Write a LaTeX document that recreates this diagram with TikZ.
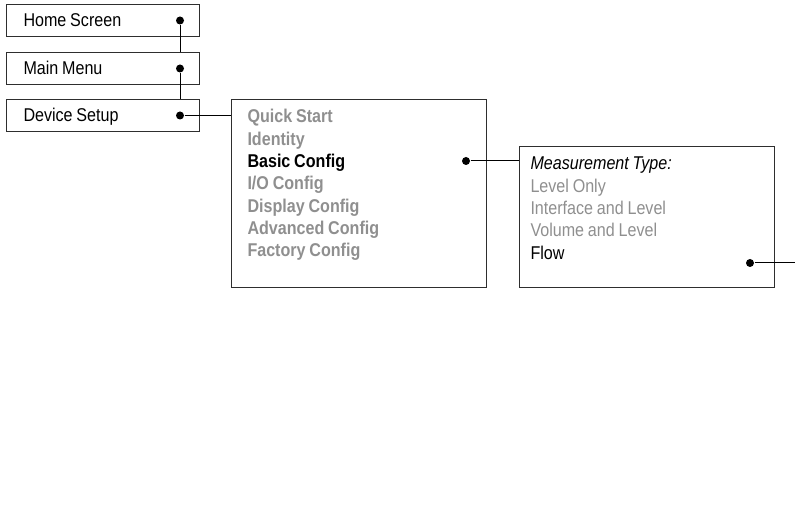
\documentclass[tikz,border=0pt]{standalone}
\usepackage{fontspec}
\setmainfont[FakeStretch=0.87,WordSpace=0.85]{Liberation Sans}
\usepackage{tikz}
\usetikzlibrary{positioning,calc}
\definecolor{menugray}{gray}{0.56}
\definecolor{framegray}{gray}{0.18}

\begin{document}
\begin{tikzpicture}[x=1pt, y=-1pt, line width=1pt, font=\fontsize{18.5pt}{22.3pt}\selectfont,
  menubox/.style={draw=framegray,anchor=north west,minimum width=193pt,minimum height=32pt,
    label={[anchor=west,xshift=17pt,inner sep=0pt,text height=13pt,text depth=0pt]west:#1}},
  panel/.style={draw=framegray,anchor=north west,minimum width=255pt},
  dot/.style={circle,fill,inner sep=0pt,minimum size=8pt},
  item/.style={anchor=base west,inner sep=0pt}]
  \useasboundingbox (0,0) rectangle (795,510);
  % left column of menus
  \node[menubox=Home Screen](home) at (6,4){};
  \node[menubox=Main Menu](main) at (6,52){};
  \node[menubox=Device Setup](dev) at (6,99){};
  \foreach \n in {home,main,dev}{ \node[dot](\n dot) at (\n.center -| 180,0){}; }
  % device setup panel
  \node[panel,minimum height=188pt](setup) at (231,99){};
  \foreach \t/\c [count=\i] in {Quick Start/menugray,Identity/menugray,Basic Config/black,
     {I/O Config}/menugray,Display Config/menugray,Advanced Config/menugray,Factory Config/menugray}{
     \node[item,text=\c](cfg\i) at (247,{100.7+22.3*\i}){\bfseries\t}; }
  \node[dot](basicdot) at (466,161){};
  % measurement type panel
  \node[panel,minimum height=141pt](meas) at (519,146){};
  \node[item](mt0) at (530,170){\itshape Measurement Type:};
  \foreach \t/\c [count=\i] in {Level Only/menugray,Interface and Level/menugray,
     Volume and Level/menugray,Flow/black}{
     \node[item,text=\c](mt\i) at (530,{170+22.3*\i}){\t}; }
  \node[dot](flowdot) at (750,263){};
  \coordinate(out) at (795,263);
  % connectors
  \draw (homedot)--(homedot |- main.north);
  \draw (maindot)--(maindot |- dev.north);
  \draw (devdot)--(devdot -| setup.west);
  \draw (basicdot)--(basicdot -| meas.west);
  \draw (flowdot)--(out);
\end{tikzpicture}
\end{document}
